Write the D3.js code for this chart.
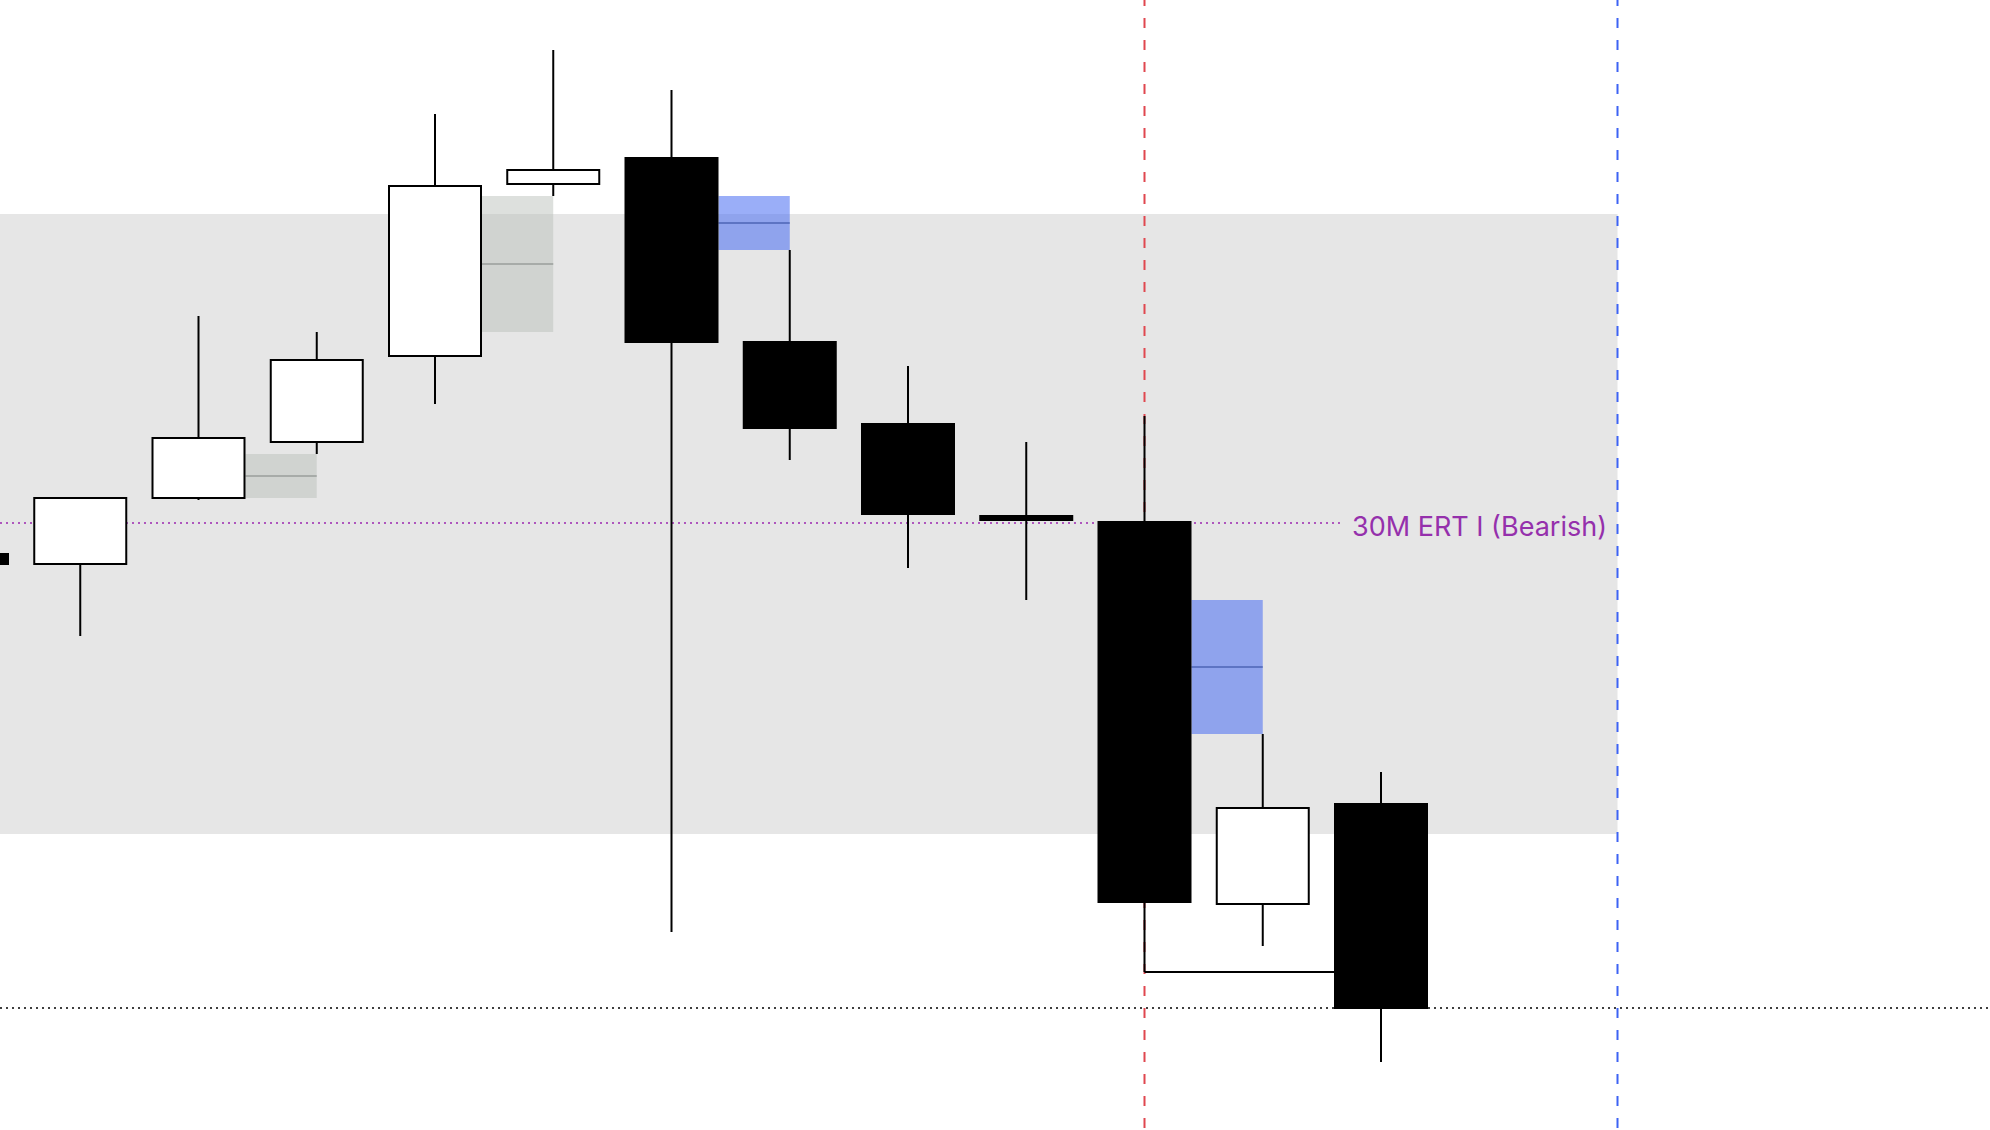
<!DOCTYPE html>
<html>
<head>
<meta charset="utf-8">
<script src="https://cdn.jsdelivr.net/npm/d3@7"></script>
<style>
    body { margin: 0; background: #ffffff; }
    svg { display: block; }
</style>
</head>
<body>
<svg id="canvas" width="1990" height="1130"></svg>
<script>
// 5m candles, bar index 0 is cut off at the left edge
let barIndex = [0, 1, 2, 3, 4, 5, 6, 7, 8, 9, 10, 11, 12]
let opens  = [21080.75, 21079.5, 21087.75, 21094.75, 21105.5, 21127, 21130.25, 21107.25, 21097, 21085.5, 21084.75, 21037, 21049.5]
let highs  = [21081.5, 21087.75, 21110.5, 21108.5, 21135.75, 21143.75, 21138.75, 21118.75, 21104.25, 21094.75, 21098, 21058.25, 21053.5]
let lows   = [21078.5, 21070.5, 21087.5, 21093.25, 21099.5, 21125.5, 21033.5, 21092.5, 21079, 21075, 21028.5, 21031.75, 21017.25]
let closes = [21079.5, 21087.75, 21095.25, 21105, 21126.75, 21128.75, 21107.25, 21096.5, 21085.75, 21085, 21037.25, 21049, 21024]

// middle candle of each fair value gap that is drawn
let fvgMiddle = [2, 4, 6, 10]

// higher timeframe range and levels
let rangeZone = [21045.75, 21123.25]
let ertLevel = 21084.625
let ertLabel = '30M ERT I (Bearish)'
let closeLevel = 21024
let sweepFrom = 10
let sweepTo = 12
let redMarkerBar = 10
let blueMarkerBar = 14

let width = 1990
let height = 1130
let bodyWidth = 92

let canvas = d3.select('#canvas')

let xScale = d3.scaleLinear()
                .domain([0, 12])
                .range([-38, 1381])

let yScale = d3.scaleLinear()
                .domain([21008.75, 21150])
                .range([height, 0])

let candles = barIndex.map((i) => {
    return {i: i, open: opens[i], high: highs[i], low: lows[i], close: closes[i]}
})

// gray range box
canvas.append('rect')
        .attr('x', 0)
        .attr('y', yScale(rangeZone[1]))
        .attr('width', xScale(blueMarkerBar))
        .attr('height', yScale(rangeZone[0]) - yScale(rangeZone[1]))
        .attr('fill', '#e6e6e6')

// fair value gaps
let fvgs = fvgMiddle.map((m) => {
    let bullish = lows[m + 1] > highs[m - 1]
    let top = bullish ? lows[m + 1] : lows[m - 1]
    let bottom = bullish ? highs[m - 1] : highs[m + 1]
    return {m: m, bullish: bullish, top: top, bottom: bottom}
})

let fvgGroup = canvas.selectAll('.fvg')
        .data(fvgs)
        .enter()
        .append('g')
        .attr('class', 'fvg')

fvgGroup.append('rect')
        .attr('x', (d) => xScale(d.m) + bodyWidth / 2 + 1)
        .attr('y', (d) => yScale(d.top))
        .attr('width', (d) => xScale(d.m + 1) - xScale(d.m) - bodyWidth / 2 - 1)
        .attr('height', (d) => yScale(d.bottom) - yScale(d.top))
        .attr('fill', (d) => d.bullish ? 'rgba(184,190,184,0.48)' : 'rgba(75,110,242,0.56)')

fvgGroup.append('line')
        .attr('x1', (d) => xScale(d.m) + bodyWidth / 2 + 1)
        .attr('x2', (d) => xScale(d.m + 1))
        .attr('y1', (d) => yScale((d.top + d.bottom) / 2))
        .attr('y2', (d) => yScale((d.top + d.bottom) / 2))
        .attr('stroke', (d) => d.bullish ? '#9a9e9b' : '#4d64b4')
        .attr('stroke-width', 1.5)

// ERT level + label
let label = canvas.append('text')
        .text(ertLabel)
        .attr('x', 1607)
        .attr('y', yScale(ertLevel) + 13)
        .attr('text-anchor', 'end')
        .attr('font-family', 'Inter, "Noto Sans", sans-serif')
        .attr('font-size', 27)
        .attr('fill', '#9530ac')

let labelStart = 1607 - label.node().getComputedTextLength()

canvas.append('line')
        .attr('x1', 0)
        .attr('x2', labelStart - 12)
        .attr('y1', yScale(ertLevel))
        .attr('y2', yScale(ertLevel))
        .attr('stroke', '#9c27b0')
        .attr('stroke-width', 1.5)
        .attr('stroke-dasharray', '2,4')

// close level
canvas.append('line')
        .attr('x1', 0)
        .attr('x2', width)
        .attr('y1', yScale(closeLevel))
        .attr('y2', yScale(closeLevel))
        .attr('stroke', '#000000')
        .attr('stroke-width', 1.5)
        .attr('stroke-dasharray', '2,4')

// vertical markers
canvas.selectAll('.marker')
        .data([{bar: redMarkerBar, color: '#e0474f'}, {bar: blueMarkerBar, color: '#3d63f4'}])
        .enter()
        .append('line')
        .attr('class', 'marker')
        .attr('x1', (d) => xScale(d.bar))
        .attr('x2', (d) => xScale(d.bar))
        .attr('y1', 0)
        .attr('y2', height)
        .attr('stroke', (d) => d.color)
        .attr('stroke-width', 2)
        .attr('stroke-dasharray', '10,12')
        .attr('stroke-dashoffset', 4)

// sweep of the low
canvas.append('line')
        .attr('x1', xScale(sweepFrom))
        .attr('x2', xScale(sweepTo) - bodyWidth / 2)
        .attr('y1', yScale(lows[sweepFrom]))
        .attr('y2', yScale(lows[sweepFrom]))
        .attr('stroke', '#000000')
        .attr('stroke-width', 2)

// candles
let block = canvas.selectAll('.candle')
        .data(candles)
        .enter()
        .append('g')
        .attr('class', 'candle')

block.append('line')
        .attr('x1', (d) => xScale(d.i))
        .attr('x2', (d) => xScale(d.i))
        .attr('y1', (d) => yScale(d.high))
        .attr('y2', (d) => yScale(d.low))
        .attr('stroke', '#000000')
        .attr('stroke-width', 2)

block.append('rect')
        .attr('x', (d) => xScale(d.i) - bodyWidth / 2)
        .attr('y', (d) => yScale(Math.max(d.open, d.close)))
        .attr('width', bodyWidth)
        .attr('height', (d) => Math.max(1, Math.abs(yScale(d.open) - yScale(d.close))))
        .attr('fill', (d) => d.close >= d.open ? '#ffffff' : '#000000')
        .attr('stroke', '#000000')
        .attr('stroke-width', 2)
</script>
</body>
</html>
